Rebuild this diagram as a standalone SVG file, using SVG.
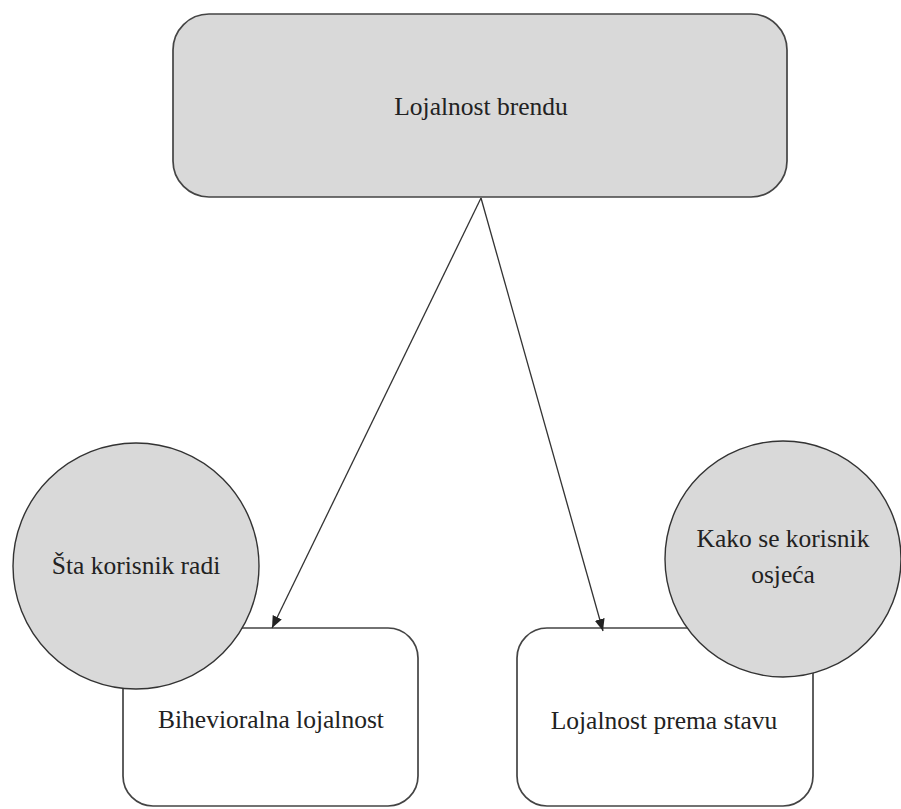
<svg xmlns="http://www.w3.org/2000/svg" width="901" height="809" viewBox="0 0 901 809">
  <defs>
    <style>
      .box { fill: #ffffff; stroke: #444444; stroke-width: 1.7; }
      .main { fill: #d9d9d9; stroke: #444444; stroke-width: 1.7; }
      .bubble { fill: #d9d9d9; stroke: #333333; stroke-width: 1.4; }
      .label { font-family: "Liberation Serif", "Times New Roman", serif; font-size: 25.5px; fill: #222222; text-anchor: middle; }
      .link { stroke: #333333; stroke-width: 1.3; fill: none; marker-end: url(#arrow); }
    </style>
    <marker id="arrow" viewBox="0 0 12 10" refX="12" refY="5" markerWidth="12" markerHeight="10" markerUnits="userSpaceOnUse" orient="auto">
      <path d="M0,0 L12,5 L0,10 Z" fill="#222222"/>
    </marker>
  </defs>
  <rect width="901" height="809" fill="#ffffff"/>

  <g id="node-brand">
    <rect class="main" x="173" y="14" width="614" height="183" rx="36" ry="36"/>
    <text class="label" x="481" y="115">Lojalnost brendu</text>
  </g>

  <g id="node-behavioral">
    <rect class="box" x="123" y="628" width="295" height="178" rx="30" ry="30"/>
    <text class="label" x="271" y="728">Bihevioralna lojalnost</text>
  </g>

  <g id="node-attitudinal">
    <rect class="box" x="517" y="628" width="296" height="178" rx="30" ry="30"/>
    <text class="label" x="664" y="729">Lojalnost prema stavu</text>
  </g>

  <g id="node-does">
    <circle class="bubble" cx="136" cy="566" r="123"/>
    <text class="label" x="136" y="574">Šta korisnik radi</text>
  </g>

  <g id="node-feels">
    <circle class="bubble" cx="783" cy="559" r="118"/>
    <text class="label" x="783" y="547">Kako se korisnik</text>
    <text class="label" x="783" y="583">osjeća</text>
  </g>

  <g id="connectors">
    <line class="link" x1="481" y1="198" x2="272" y2="628"/>
    <line class="link" x1="481" y1="198" x2="603" y2="631"/>
  </g>
</svg>
